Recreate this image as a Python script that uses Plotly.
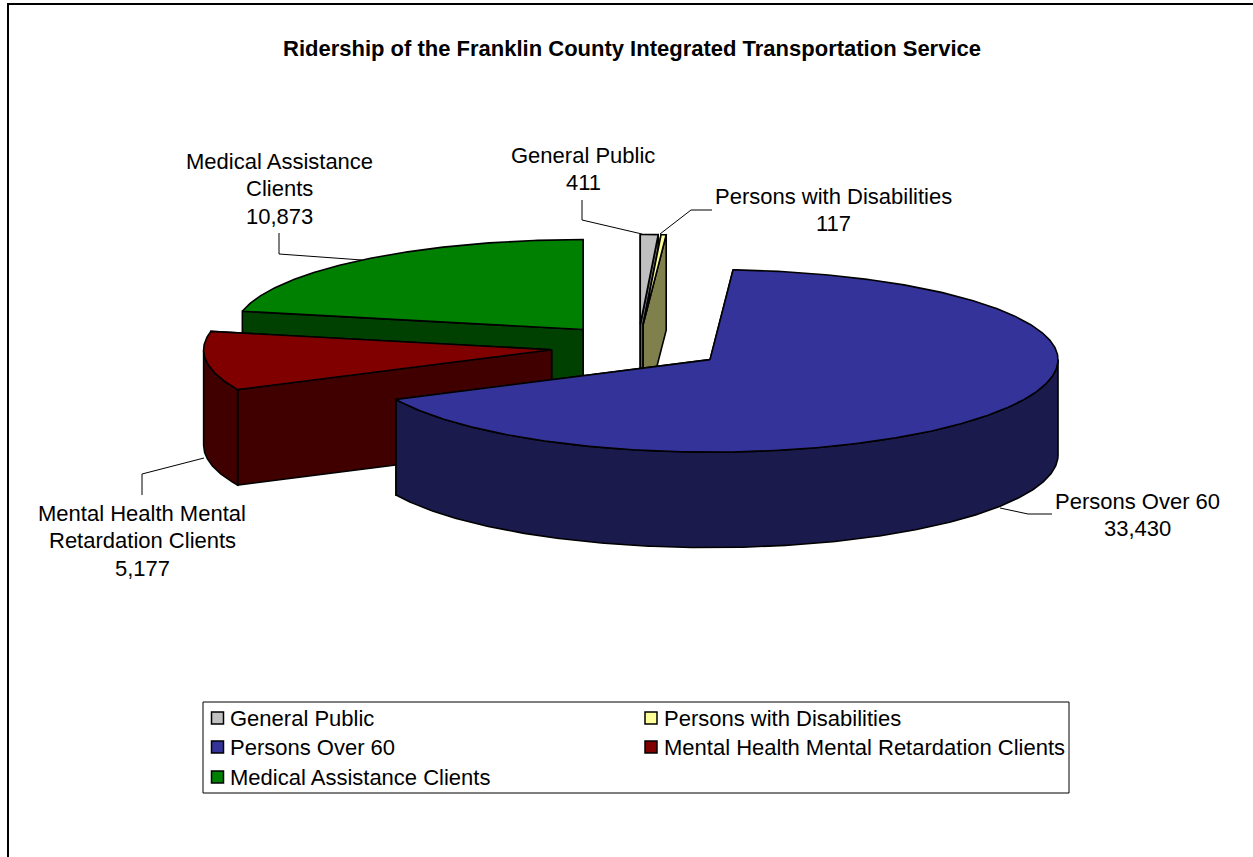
import numpy as np
import plotly.graph_objects as go

# ---- data ----
categories = ["General Public", "Persons with Disabilities", "Persons Over 60",
              "Mental Health Mental Retardation Clients", "Medical Assistance Clients"]
values = [411, 117, 33430, 5177, 10873]
label_lines = [["General Public"], ["Persons with Disabilities"], ["Persons Over 60"],
               ["Mental Health Mental", "Retardation Clients"], ["Medical Assistance", "Clients"]]
top_colors = ["#C0C0C0", "#FFFF99", "#333399", "#800000", "#008000"]
wall_colors = ["#606060", "#80804D", "#1A1A4D", "#400000", "#004000"]
draw_order = [4, 0, 1, 3, 2]
title = "Ridership of the Franklin County Integrated Transportation Service"

# ---- projection of the tilted, exploded pie (pixel space) ----
CX, CY = 638.0, 347.0
RX = 348.0
RY_BACK, RY_FRONT = 90.0, 92.5
DEPTH = 95.5
EXPLODE = 87.0
TILT = RY_BACK / RX

# ---- label layout: centre x, first-line y, leader polyline ----
label_pos = [(583, 155), (833, 196), (1137, 501), (142, 513), (279, 161)]
leaders = [
    [(582, 200), (582, 220), (642, 234)],
    [(712, 210), (691, 210), (660, 234)],
    [(1052, 514), (1028, 514), (1000, 508)],
    [(142, 495), (142, 474), (204, 458)],
    [(279, 233), (279, 254), (362, 260)],
]
LINE_STEP = 27.7

# ---- legend layout ----
LEGEND_BOX = (203, 702, 1069, 793)
LEGEND_COLS = [217.5, 651]
LEGEND_ROWS = [718, 747, 777]
SWATCH_TO_TEXT = 10.5


def pt(cx, cy, deg, dz=0.0):
    a = np.radians(deg)
    c = np.cos(a)
    return cx + RX * np.sin(a), cy - np.where(c > 0, RY_BACK, RY_FRONT) * c + dz


fig = go.Figure()


def poly(xs, ys, color):
    fig.add_trace(go.Scatter(
        x=list(xs) + [xs[0]], y=list(ys) + [ys[0]], mode="lines", fill="toself",
        fillcolor=color, line=dict(color="black", width=1.6), hoverinfo="skip", showlegend=False))


total = sum(values)
angles = np.concatenate([[0], np.cumsum(values) / total * 360.0])

for i in draw_order:
    a0, a1 = angles[i], angles[i + 1]
    mid = np.radians((a0 + a1) / 2)
    ax = CX + EXPLODE * np.sin(mid)
    ay = CY - EXPLODE * TILT * np.cos(mid)
    arc = np.linspace(a0, a1, max(4, int((a1 - a0) * 2)))
    # radial walls, farthest first
    for edge in sorted((a0, a1), key=lambda e: float(pt(ax, ay, e)[1])):
        ex, ey = pt(ax, ay, edge)
        ex, ey = float(ex), float(ey)
        poly([ax, ex, ex, ax], [ay, ey, ey + DEPTH, ay + DEPTH], wall_colors[i])
    lo, hi = max(a0, 90), min(a1, 270)
    if hi > lo:
        front = np.linspace(lo, hi, int((hi - lo) * 2))
        tx, ty = pt(ax, ay, front)
        bx, by = pt(ax, ay, front[::-1], DEPTH)
        poly(np.r_[tx, bx], np.r_[ty, by], wall_colors[i])
    tx, ty = pt(ax, ay, arc)
    poly(np.r_[ax, tx], np.r_[ay, ty], top_colors[i])

for line in leaders:
    fig.add_trace(go.Scatter(x=[p[0] for p in line], y=[p[1] for p in line], mode="lines",
                             line=dict(color="black", width=1), hoverinfo="skip", showlegend=False))

FONT = "Liberation Sans, Arial, sans-serif"

# legend, laid out in the reference's two-column box
slots = [(0, 0), (1, 0), (0, 1), (1, 1), (0, 2)]
for name, color, (c, r) in zip(categories, top_colors, slots):
    fig.add_trace(go.Scatter(x=[LEGEND_COLS[c]], y=[LEGEND_ROWS[r]], mode="markers", name=name,
                             showlegend=False, hoverinfo="skip",
                             marker=dict(symbol="square", size=12, color=color,
                                         line=dict(color="black", width=1.5))))
    fig.add_annotation(x=LEGEND_COLS[c] + SWATCH_TO_TEXT, y=LEGEND_ROWS[r], text=name, showarrow=False,
                       xanchor="left", yanchor="middle", font=dict(family=FONT, size=22, color="black"))

for i, (cx, y0) in enumerate(label_pos):
    lines = label_lines[i] + [f"{values[i]:,}"]
    for k, text in enumerate(lines):
        fig.add_annotation(x=cx, y=y0 + k * LINE_STEP, text=text, showarrow=False,
                           xanchor="center", yanchor="middle",
                           font=dict(family=FONT, size=22, color="black"))

fig.add_annotation(x=632, y=48, text=f"<b>{title}</b>", showarrow=False, xanchor="center", yanchor="middle",
                   font=dict(family=FONT, size=22, color="black"))

fig.update_layout(
    width=1253, height=857, autosize=False, showlegend=False,
    margin=dict(l=0, r=0, t=0, b=0),
    paper_bgcolor="white", plot_bgcolor="white",
    xaxis=dict(range=[0, 1253], visible=False, fixedrange=True),
    yaxis=dict(range=[857, 0], visible=False, fixedrange=True),
    shapes=[
        dict(type="line", x0=8, x1=8, y0=3, y1=857, line=dict(color="black", width=2)),
        dict(type="line", x0=7, x1=1253, y0=4, y1=4, line=dict(color="black", width=2)),
        dict(type="rect", x0=LEGEND_BOX[0], y0=LEGEND_BOX[1], x1=LEGEND_BOX[2], y1=LEGEND_BOX[3],
             line=dict(color="black", width=1), layer="below"),
    ],
)

fig.write_html("out.html", config={"displayModeBar": False},
               post_script="document.body.style.margin='0';document.body.style.overflow='hidden';")
